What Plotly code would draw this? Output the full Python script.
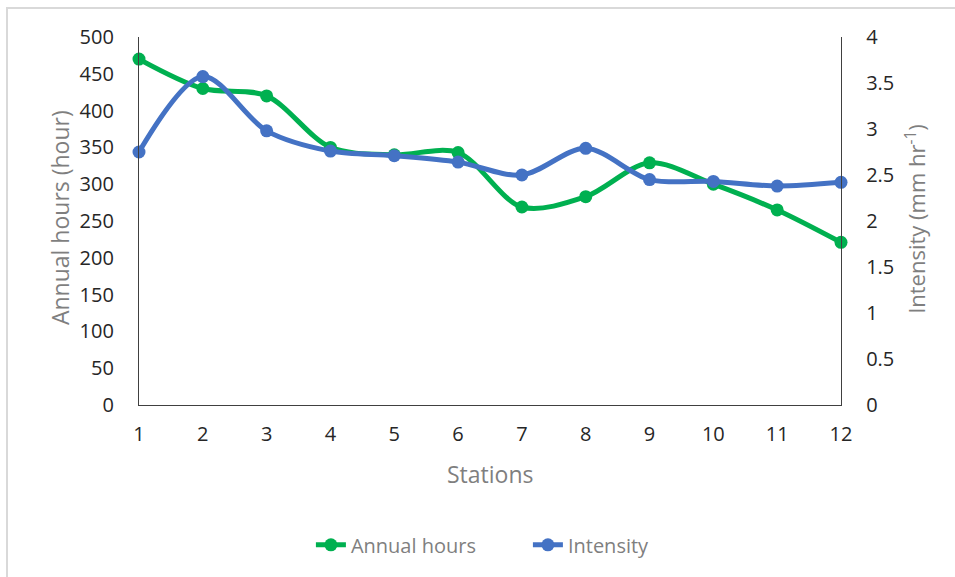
import plotly.graph_objects as go

stations = [1, 2, 3, 4, 5, 6, 7, 8, 9, 10, 11, 12]
annual_hours = [470, 430, 420, 350, 340, 343, 269, 283, 329, 300, 265, 221]
intensity = [2.75, 3.57, 2.98, 2.76, 2.71, 2.64, 2.50, 2.79, 2.45, 2.43, 2.38, 2.42]

GREEN = "#00B050"
BLUE = "#4472C4"
TICK_COLOR = "#262626"
TITLE_COLOR = "#7F7F7F"
FONT = "'Open Sans', Lato, sans-serif"

fig = go.Figure()
fig.add_trace(go.Scatter(
    x=stations, y=annual_hours, name="Annual hours",
    mode="lines+markers", line=dict(color=GREEN, width=5, shape="spline", smoothing=0.9),
    marker=dict(size=13, color=GREEN), cliponaxis=False, yaxis="y",
))
fig.add_trace(go.Scatter(
    x=stations, y=intensity, name="Intensity",
    mode="lines+markers", line=dict(color=BLUE, width=5, shape="spline", smoothing=0.9),
    marker=dict(size=13, color=BLUE), cliponaxis=False, yaxis="y2",
))

axis_common = dict(
    showgrid=False, zeroline=False, showline=True, linecolor="#404040", linewidth=1.3,
    ticks="", tickfont=dict(family=FONT, size=20, color=TICK_COLOR),
)

fig.update_layout(
    width=955, height=577,
    margin=dict(l=139, r=114, t=37, b=172),
    paper_bgcolor="white", plot_bgcolor="white",
    font=dict(family=FONT),
    xaxis=dict(range=[1, 12], tickvals=stations, ticklabelstandoff=11, **axis_common),
    yaxis=dict(range=[0, 500], dtick=50, ticklabelstandoff=20, **axis_common),
    yaxis2=dict(range=[0, 4], dtick=0.5, overlaying="y", side="right",
                ticklabelstandoff=20, **axis_common),
    showlegend=True,
    legend=dict(orientation="h", x=0.554, xanchor="center", y=-0.38, yanchor="middle",
                font=dict(family=FONT, size=20, color=TITLE_COLOR),
                entrywidth=172, entrywidthmode="pixels", tracegroupgap=0),
    annotations=[
        dict(text="Annual hours (hour)", xref="paper", yref="paper", x=-0.1125, y=0.508,
             textangle=-90, showarrow=False, xanchor="center", yanchor="middle",
             font=dict(family=FONT, size=23, color=TITLE_COLOR)),
        dict(text="Intensity (mm hr<sup>-1</sup>)", xref="paper", yref="paper", x=1.105, y=0.505,
             textangle=-90, showarrow=False, xanchor="center", yanchor="middle",
             font=dict(family=FONT, size=22, color=TITLE_COLOR)),
        dict(text="Stations", xref="paper", yref="paper", x=0.5, y=-0.1875,
             showarrow=False, xanchor="center", yanchor="middle",
             font=dict(family=FONT, size=23, color=TITLE_COLOR)),
    ],
    shapes=[
        dict(type="rect", xref="paper", yref="paper",
             x0=(7 - 139) / 702, x1=(970 - 139) / 702,
             y0=(405 - 600) / 368, y1=(405 - 8) / 368,
             line=dict(color="#D9D9D9", width=2), layer="below"),
    ],
)

fig.write_html("out.html")
